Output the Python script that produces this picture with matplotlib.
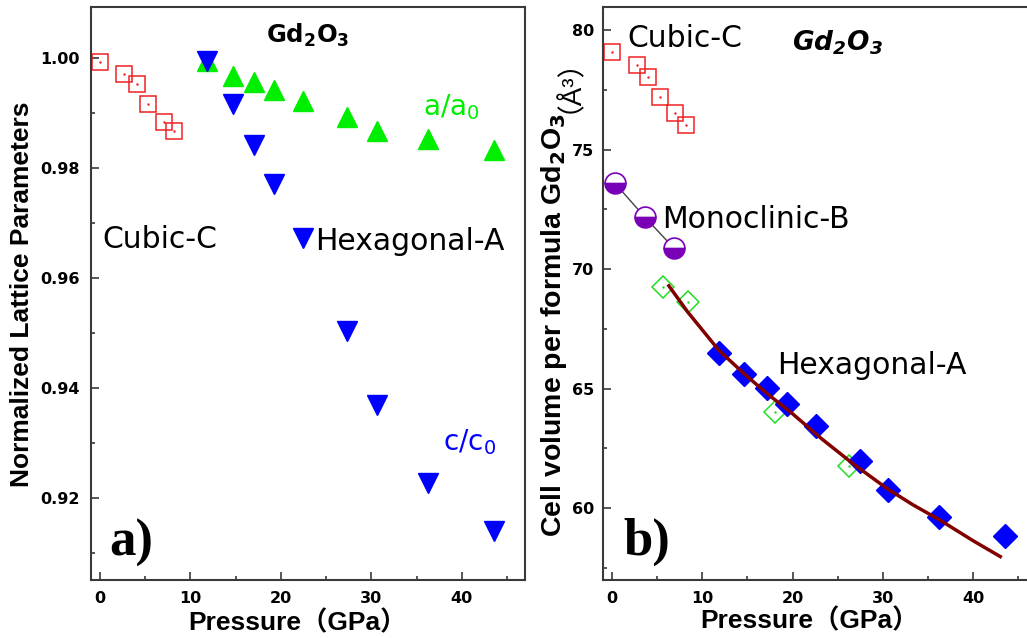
import matplotlib
matplotlib.use("Agg")
import matplotlib.pyplot as plt
from matplotlib.ticker import MultipleLocator, FormatStrFormatter
from matplotlib.font_manager import FontProperties

plt.rcParams["mathtext.fontset"] = "dejavusans"

# ---------------- data ----------------
# panel a) normalized lattice parameters
cubic_p_a = [0.0, 2.65, 4.05, 5.26, 7.07, 8.13]
cubic_norm = [0.9993, 0.9971, 0.9952, 0.9916, 0.9884, 0.9867]

hex_p_a = [11.85, 14.68, 17.08, 19.2, 22.45, 27.3, 30.6, 36.3, 43.6]
a_over_a0 = [0.9995, 0.9967, 0.9956, 0.9942, 0.9921, 0.9893, 0.9868, 0.9852, 0.9832]
c_over_c0 = [0.9994, 0.9916, 0.9841, 0.9771, 0.9672, 0.9504, 0.9369, 0.9227, 0.9139]

# panel b) cell volume per formula unit
cubic_p_b = [0.0, 2.73, 4.02, 5.31, 6.98, 8.16]
cubic_vol = [79.09, 78.54, 78.05, 77.21, 76.52, 76.03]

mono_p = [0.33, 3.65, 6.87]
mono_vol = [73.59, 72.17, 70.87]

hexopen_p = [5.68, 8.45, 18.05, 26.27]
hexopen_vol = [69.27, 68.64, 64.02, 61.76]

hexfill_p = [11.85, 14.65, 17.13, 19.35, 22.6, 27.46, 30.53, 36.25, 43.56]
hexfill_vol = [66.5, 65.6, 65.04, 64.37, 63.42, 61.96, 60.78, 59.62, 58.84]

fit_p = [6.3, 8.4, 11.85, 14.65, 17.1, 20.0, 23.3, 26.7, 30.4, 33.3, 36.3, 40.0, 43.0]
fit_vol = [69.3, 68.2, 66.6, 65.62, 64.82, 63.95, 62.88, 61.86, 60.84, 60.15, 59.51, 58.64, 57.98]

# ---------------- figure ----------------
W, H = 1027, 638
fig = plt.figure(figsize=(W / 100, H / 100), dpi=100)

def px_rect(x0, y0, x1, y1):
    return [x0 / W, 1 - y1 / H, (x1 - x0) / W, (y1 - y0) / H]

ax1 = fig.add_axes(px_rect(91, 7, 525, 580))
ax2 = fig.add_axes(px_rect(603.3, 7, 1027, 580))

spine_col = "#3a3a3a"
for ax in (ax1, ax2):
    for s in ax.spines.values():
        s.set_linewidth(1.5)
        s.set_color(spine_col)
    ax.tick_params(which="both", direction="in", colors=spine_col, width=1.2,
                   labelcolor="black")
    ax.tick_params(which="major", length=6)
    ax.tick_params(which="minor", length=3)
    ax.xaxis.set_major_locator(MultipleLocator(10))
    ax.xaxis.set_minor_locator(MultipleLocator(5))
ax2.spines["right"].set_visible(False)

tick_font = dict(family="DejaVu Sans", weight="bold", size=11.5)

# ---- panel a ----
ax1.plot(cubic_p_a, cubic_norm, ls="none", marker="s", ms=11.5, mfc="none",
         mec="#ee2222", mew=1.1)
ax1.plot(cubic_p_a, cubic_norm, ls="none", marker=".", ms=1.5, color="#ee2222")
ax1.plot(hex_p_a, a_over_a0, ls="none", marker="^", ms=15, color="#00ee00",
         mec="#00ee00")
ax1.plot(hex_p_a, c_over_c0, ls="none", marker="v", ms=15, color="#0000ff",
         mec="#0000ff")
ax1.set_xlim(-1, 47)
ax1.set_ylim(0.905, 1.0093)
ax1.yaxis.set_major_locator(MultipleLocator(0.02))
ax1.yaxis.set_minor_locator(MultipleLocator(0.01))
ax1.yaxis.set_major_formatter(FormatStrFormatter("%.2f"))
ax1.tick_params(axis="both", which="major", pad=8)

txt = dict(family="DejaVu Sans", size=21.5)
ax1.text(23.0, 1.0042, r"$\mathbf{Gd_2O_3}$", ha="center", va="center",
         size=17.5)
ax1.text(35.7, 0.98967, r"a/a$_0$", color="#00ee00", ha="left", va="baseline",
         family="DejaVu Sans", size=20)
ax1.text(0.3, 0.96551, "Cubic-C", ha="left", va="baseline", **txt)
ax1.text(23.8, 0.96515, "Hexagonal-A", ha="left", va="baseline", **txt)
ax1.text(37.96, 0.92855, r"c/c$_0$", color="#0000ff", ha="left", va="baseline",
         family="DejaVu Sans", size=20)
ax1.text(0.97, 0.9094, "a)", ha="left", va="baseline",
         family="Liberation Serif", weight="bold", size=38)

# ---- panel b ----
ax2.plot(mono_p, mono_vol, ls="-", lw=1.0, color="#444444", zorder=1)
ax2.plot(fit_p, fit_vol, ls="-", lw=2.5, color="#820000", zorder=3)
ax2.plot(cubic_p_b, cubic_vol, ls="none", marker="s", ms=12, mfc="none",
         mec="#ee2222", mew=1.1)
ax2.plot(cubic_p_b, cubic_vol, ls="none", marker=".", ms=1.5, color="#ee2222")
ax2.plot(mono_p, mono_vol, ls="none", marker="o", ms=15, color="#7a00b8",
         fillstyle="bottom", mfc="#7a00b8", mfcalt="white", mec="#7a00b8",
         mew=1.2, zorder=2)
ax2.plot(hexopen_p, hexopen_vol, ls="none", marker="D", ms=11.5, mfc="none",
         mec="#22dd22", mew=1.1, zorder=2)
ax2.plot(hexopen_p, hexopen_vol, ls="none", marker=".", ms=1.5,
         color="#22dd22", zorder=2)
ax2.plot(hexfill_p, hexfill_vol, ls="none", marker="D", ms=12, color="#0000ff",
         mec="#0000ff", zorder=2)
ax2.set_xlim(-0.96, 45.96)
ax2.set_ylim(57.0, 80.96)
ax2.yaxis.set_major_locator(MultipleLocator(5))
ax2.yaxis.set_minor_locator(MultipleLocator(2.5))
ax2.tick_params(axis="x", which="major", pad=8)
ax2.tick_params(axis="y", which="major", pad=6.5)

ax2.text(1.7, 79.30, "Cubic-C", ha="left", va="baseline", **txt)
ax2.text(19.9, 79.16, r"$\mathbfit{Gd_2O_3}$", ha="left", va="baseline",
         size=19)
ax2.text(5.5, 71.71, "Monoclinic-B", ha="left", va="baseline", **txt)
ax2.text(18.24, 65.62, "Hexagonal-A", ha="left", va="baseline", **txt)
ax2.text(1.25, 58.05, "b)", ha="left", va="baseline",
         family="Liberation Serif", weight="bold", size=38)

for ax in (ax1, ax2):
    for lab in ax.get_xticklabels() + ax.get_yticklabels():
        lab.set_fontproperties(FontProperties(**tick_font))

# ---- axis labels ----
lab_fam = ["Liberation Sans", "Noto Sans CJK SC", "DejaVu Sans"]
fig.text(297.5 / W, 1 - 630 / H, "Pressure（GPa）", ha="center", va="baseline",
         family=lab_fam, weight="bold", size=19)
fig.text(809 / W, 1 - 628 / H, "Pressure（GPa）", ha="center", va="baseline",
         family=lab_fam, weight="bold", size=19)
fig.text(22.5 / W, 1 - 294.5 / H, "Normalized Lattice Parameters", rotation=90,
         ha="center", va="center", family=lab_fam, weight="bold", size=19)
fig.text(561 / W, 1 - 113 / H, r"Cell volume per formula Gd$_\mathbf{2}$O$_\mathbf{3}$",
         rotation=90, rotation_mode="anchor", ha="right", va="baseline",
         family="Liberation Sans", weight="bold", size=20.5)
fig.text(563 / W, 1 - 113 / H, "（Å³）", rotation=90,
         rotation_mode="anchor", ha="left", va="baseline",
         family=["Liberation Sans", "Noto Sans CJK SC"], size=20)

fig.savefig("out.png", dpi=100)
